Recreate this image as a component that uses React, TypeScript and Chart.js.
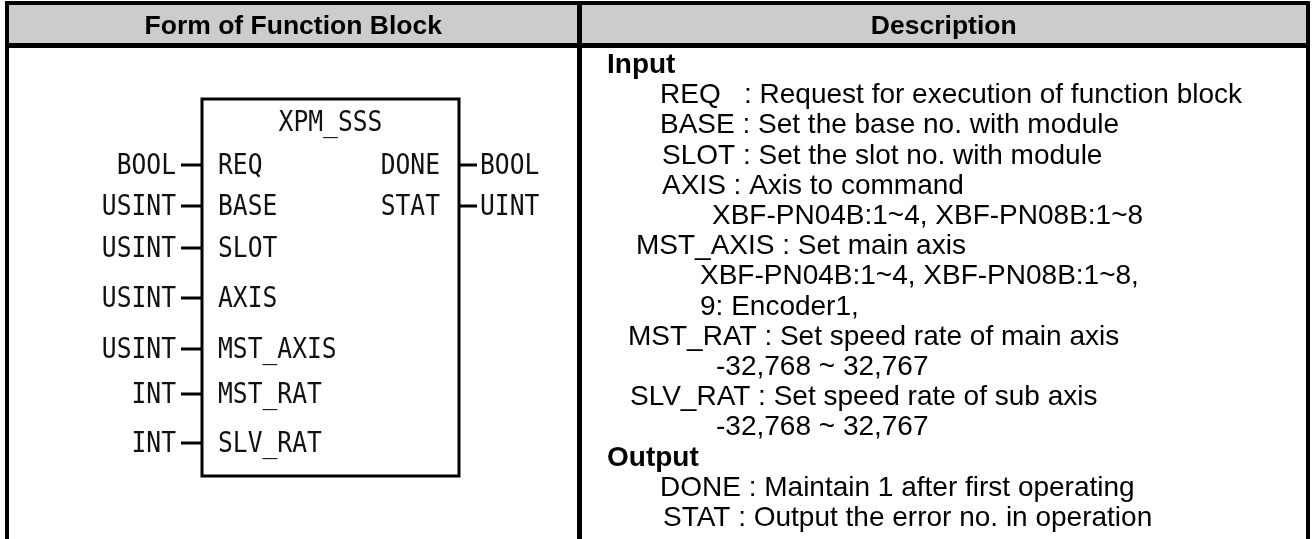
import { useEffect, useRef } from 'react';
import { Chart, registerables } from 'chart.js';

Chart.register(...registerables);

const W = 1315;
const H = 539;

// ---- content ----
const headerLabels = ['Form of Function Block', 'Description'];
const blockName = 'XPM_SSS';
const inputPins = ['REQ', 'BASE', 'SLOT', 'AXIS', 'MST_AXIS', 'MST_RAT', 'SLV_RAT'];
const inputTypes = ['BOOL', 'USINT', 'USINT', 'USINT', 'USINT', 'INT', 'INT'];
const outputPins = ['DONE', 'STAT'];
const outputTypes = ['BOOL', 'UINT'];
const descTexts = [
  'Input',
  'REQ   : Request for execution of function block',
  'BASE : Set the base no. with module',
  'SLOT : Set the slot no. with module',
  'AXIS : Axis to command',
  'XBF-PN04B:1~4, XBF-PN08B:1~8',
  'MST_AXIS : Set main axis',
  'XBF-PN04B:1~4, XBF-PN08B:1~8,',
  '9: Encoder1,',
  'MST_RAT : Set speed rate of main axis',
  '-32,768 ~ 32,767',
  'SLV_RAT : Set speed rate of sub axis',
  '-32,768 ~ 32,767',
  'Output',
  'DONE : Maintain 1 after first operating',
  'STAT : Output the error no. in operation',
];
const descBold = [true, false, false, false, false, false, false, false, false, false, false, false, false, true, false, false];

// ---- layout (positions in page units) ----
const descX = [607, 660, 660, 662, 662, 712, 636, 700, 700, 628, 716, 630, 716, 607, 660, 663];
const descTop = 73;
const descStep = 30.2;
const pinBaselines = [174, 215, 257, 307, 358, 403, 452];
const table = { left: 7, right: 1308, top: 3, headerBottom: 45.5, divider: 579.5 };
const box = { left: 202, right: 459, top: 99, bottom: 476 };

export default function App() {
  const ref = useRef<HTMLCanvasElement | null>(null);

  useEffect(() => {
    document.body.style.margin = '0';
    const canvas = ref.current;
    if (!canvas) return;

    const drawPlugin = {
      id: 'fbTable',
      afterDraw(chart: any) {
        const ctx: CanvasRenderingContext2D = chart.ctx;
        const xs = chart.scales.x;
        const ys = chart.scales.y;
        const px = (v: number) => xs.getPixelForValue(v);
        const py = (v: number) => ys.getPixelForValue(v);

        ctx.save();
        ctx.fillStyle = '#ffffff';
        ctx.fillRect(px(0), py(0), px(W) - px(0), py(H) - py(0));
        ctx.fillStyle = '#cccccc';
        ctx.fillRect(px(table.left), py(table.top), px(table.right) - px(table.left), py(table.headerBottom) - py(table.top));

        const line = (x1: number, y1: number, x2: number, y2: number, w: number) => {
          ctx.beginPath();
          ctx.lineWidth = w;
          ctx.strokeStyle = '#000000';
          ctx.moveTo(px(x1), py(y1));
          ctx.lineTo(px(x2), py(y2));
          ctx.stroke();
        };
        line(table.left - 2, table.top, table.right + 2, table.top, 4);
        line(table.left, table.top - 2, table.left, H, 4);
        line(table.right, table.top - 2, table.right, H, 4);
        line(table.left, table.headerBottom, table.right, table.headerBottom, 5);
        line(table.divider, table.top, table.divider, H, 5);

        ctx.fillStyle = '#000000';
        ctx.font = 'bold 26.5px "Liberation Sans", Arial, sans-serif';
        ctx.textAlign = 'center';
        ctx.textBaseline = 'alphabetic';
        ctx.fillText(headerLabels[0], px((table.left + table.divider) / 2), py(34));
        ctx.fillText(headerLabels[1], px((table.divider + table.right) / 2), py(34));

        ctx.lineWidth = 3;
        ctx.strokeStyle = '#000000';
        ctx.strokeRect(px(box.left), py(box.top), px(box.right) - px(box.left), py(box.bottom) - py(box.top));

        const mono = (text: string, x: number, y: number, align: 'left' | 'right' | 'center', size = 28) => {
          ctx.save();
          ctx.font = `${size}px "DejaVu Sans Mono", monospace`;
          ctx.textAlign = align;
          ctx.textBaseline = 'alphabetic';
          ctx.translate(px(x), py(y));
          ctx.scale(0.88, 1);
          ctx.fillStyle = '#111111';
          ctx.fillText(text, 0, 0);
          ctx.restore();
        };

        mono(blockName, (box.left + box.right) / 2, 131, 'center', 28);

        inputPins.forEach((name, i) => {
          const b = pinBaselines[i];
          mono(name, box.left + 16, b, 'left');
          mono(inputTypes[i], box.left - 26, b, 'right');
          line(box.left - 21, b - 9, box.left, b - 9, 3);
        });
        outputPins.forEach((name, i) => {
          const b = pinBaselines[i];
          mono(name, box.right - 19, b, 'right');
          mono(outputTypes[i], box.right + 21, b, 'left');
          line(box.right, b - 9, box.right + 18, b - 9, 3);
        });

        ctx.textAlign = 'left';
        ctx.fillStyle = '#000000';
        descTexts.forEach((t, i) => {
          ctx.font = `${descBold[i] ? 'bold ' : ''}28px "Liberation Sans", Arial, sans-serif`;
          ctx.fillText(t, px(descX[i]), py(descTop + i * descStep));
        });
        ctx.restore();
      },
    };

    const chart = new Chart(canvas, {
      type: 'scatter',
      data: { datasets: [{ data: [], pointRadius: 0 }] },
      options: {
        animation: false,
        responsive: false,
        maintainAspectRatio: false,
        devicePixelRatio: 1,
        layout: { padding: 0 },
        plugins: { legend: { display: false }, tooltip: { enabled: false } },
        scales: {
          x: { type: 'linear', min: 0, max: W, display: false },
          y: { type: 'linear', min: 0, max: H, reverse: true, display: false },
        },
      },
      plugins: [drawPlugin],
    });
    return () => chart.destroy();
  }, []);

  return (
    <div style={{ position: 'absolute', left: 0, top: 0, width: W, height: H }}>
      <canvas ref={ref} width={W} height={H} style={{ display: 'block', width: W, height: H }} />
    </div>
  );
}
